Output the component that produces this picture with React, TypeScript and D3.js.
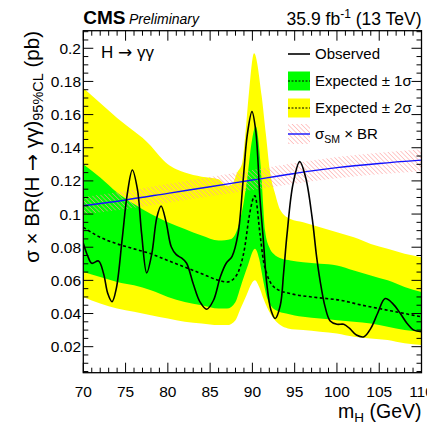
import React from 'react';
import * as d3 from 'd3';

const W = 427;
const H = 425;
const frame = { left: 83.3, right: 421.5, top: 30.7, bottom: 372.7 };

// Axis ranges and tick labels
const massDomain: [number, number] = [70, 110];
const limitDomain: [number, number] = [0.0043, 0.2106];
const xMajorTicks = [70, 75, 80, 85, 90, 95, 100, 105, 110];
const xTickLabels = ['70', '75', '80', '85', '90', '95', '100', '105', '110'];
const yMajorTicks = [0.02, 0.04, 0.06, 0.08, 0.1, 0.12, 0.14, 0.16, 0.18, 0.2];
const yTickLabels = ['0.02', '0.04', '0.06', '0.08', '0.1', '0.12', '0.14', '0.16', '0.18', '0.2'];

// Observed 95% CL upper limit
const obsMass = [
  70, 70.5, 71.0, 71.8, 72.4, 72.9, 73.4, 73.9, 74.6, 75.2,
  75.8, 76.4, 76.9, 77.5, 78.1, 78.7, 79.2, 79.8, 80.4, 81.0,
  81.6, 82.2, 83.0, 83.8, 84.6, 85.4, 86.2, 86.9, 87.6, 88.3,
  88.9, 89.4, 89.95, 90.4, 90.9, 91.3, 91.7, 92.2, 92.7, 93.3,
  93.7, 94.1, 94.8, 95.6, 96.3, 97.06, 97.6, 98.0, 98.6, 99.2,
  100.0, 100.8, 101.5, 102.3, 103.2, 104.0, 104.8, 105.7, 106.6, 107.5,
  108.3, 109.1, 110,
];
const obsLimit = [
  0.0824, 0.075, 0.0703, 0.0717, 0.064, 0.052, 0.0471, 0.055, 0.085, 0.112,
  0.1266, 0.115, 0.088, 0.0645, 0.076, 0.098, 0.1049, 0.095, 0.0803, 0.0755,
  0.0735, 0.0705, 0.058, 0.047, 0.0426, 0.048, 0.062, 0.0703, 0.0745, 0.088,
  0.12, 0.148, 0.1618, 0.150, 0.109, 0.084, 0.058, 0.042, 0.037, 0.045,
  0.065, 0.088, 0.118, 0.1316, 0.122, 0.098, 0.074, 0.060, 0.044, 0.0355,
  0.0335, 0.0335, 0.031, 0.027, 0.026, 0.031, 0.040, 0.049, 0.046, 0.040,
  0.034, 0.030, 0.029,
];

// Expected median limit
const expMass = [
  70, 72, 74, 76, 78, 80, 82, 84, 86, 87,
  87.8, 88.4, 89.1, 89.6, 90.3, 90.9, 91.3, 91.7, 92.8, 94.5,
  97, 100.4, 103, 106, 108, 110,
];
const expLimit = [
  0.092, 0.086, 0.082, 0.079, 0.076, 0.072, 0.068, 0.064, 0.060, 0.059,
  0.061, 0.066, 0.080, 0.098, 0.111, 0.088, 0.072, 0.064, 0.055, 0.052,
  0.050, 0.048, 0.045, 0.042, 0.040, 0.038,
];

// ±1σ band
const green1HiMass = [
  70, 72, 74, 76, 78, 80, 82, 84, 86, 87.5,
  88.3, 88.9, 89.4, 89.9, 90.4, 90.8, 91.1, 91.5, 92.0, 92.5,
  93.5, 94.5, 96, 98, 100, 102, 104, 106, 108, 110,
];
const green1Hi = [
  0.130, 0.122, 0.113, 0.106, 0.100, 0.095, 0.091, 0.087, 0.084, 0.085,
  0.092, 0.105, 0.122, 0.143, 0.153, 0.140, 0.120, 0.090, 0.080, 0.076,
  0.073, 0.072, 0.071, 0.070, 0.069, 0.066, 0.063, 0.060, 0.056, 0.053,
];
const green1LoMass = [
  70, 72, 74, 76, 78, 80, 82, 84, 86, 87,
  88, 88.6, 89.4, 90.3, 90.8, 91.2, 91.7, 92.3, 92.8, 94,
  96, 98, 100, 102, 104, 106, 108, 110,
];
const green1Lo = [
  0.065, 0.062, 0.059, 0.057, 0.054, 0.050, 0.047, 0.045, 0.043, 0.043,
  0.047, 0.056, 0.068, 0.079, 0.073, 0.062, 0.050, 0.044, 0.042, 0.040,
  0.038, 0.037, 0.036, 0.035, 0.034, 0.032, 0.030, 0.029,
];

// ±2σ band
const yellow2HiMass = [
  70, 72, 74, 76, 77, 78, 79, 80, 81, 82,
  84, 86, 87, 87.6, 88.2, 88.8, 89.2, 89.55, 90.2, 91.1,
  91.6, 92.1, 92.7, 93.3, 94.5, 96, 98, 100, 102, 104,
  106, 108, 110,
];
const yellow2Hi = [
  0.176, 0.167, 0.158, 0.150, 0.146, 0.141, 0.135, 0.130, 0.127, 0.125,
  0.1225, 0.121, 0.117, 0.118, 0.125, 0.131, 0.150, 0.171, 0.197, 0.171,
  0.148, 0.125, 0.112, 0.1025, 0.097, 0.095, 0.092, 0.089, 0.086, 0.082,
  0.079, 0.076, 0.074,
];
const yellow2LoMass = [
  70, 72, 74, 76, 78, 80, 82, 84, 86, 87,
  88, 88.6, 89.3, 89.9, 90.3, 90.8, 91.3, 91.9, 92.5, 93.3,
  94.2, 96, 98, 100, 102, 104, 106, 108, 110,
];
const yellow2Lo = [
  0.050, 0.046, 0.043, 0.041, 0.039, 0.037, 0.035, 0.034, 0.033, 0.033,
  0.036, 0.043, 0.051, 0.058, 0.060, 0.056, 0.049, 0.042, 0.037, 0.033,
  0.031, 0.030, 0.029, 0.028, 0.026, 0.025, 0.024, 0.022, 0.021,
];

// SM cross section times branching ratio, with its relative uncertainty
const smMass = [70, 75, 80, 85, 90, 95, 100, 105, 110];
const smXsBr = [0.105, 0.1085, 0.1125, 0.1165, 0.1205, 0.1245, 0.128, 0.1305, 0.1325];
const smRelUnc = 0.05;

const legendLabels = ['Observed', 'Expected \u00b1 1\u03c3', 'Expected \u00b1 2\u03c3'];

const FONT = "'Liberation Sans', Arial, Helvetica, sans-serif";
const ARROW_FONT = "'DejaVu Sans', sans-serif";

export default function App() {
  const x = d3.scaleLinear().domain(massDomain).range([frame.left, frame.right]);
  const y = d3.scaleLinear().domain(limitDomain).range([frame.bottom, frame.top]);

  const lineOf = (ms: number[], vs: number[], curve: d3.CurveFactory) =>
    d3
      .line<number>()
      .x((m) => x(m))
      .y((_, i) => y(vs[i]))
      .curve(curve)(ms) as string;

  const areaToBottom = (ms: number[], vs: number[]) =>
    d3
      .area<number>()
      .x((m) => x(m))
      .y0(frame.bottom)
      .y1((_, i) => y(vs[i]))
      .curve(d3.curveMonotoneX)(ms) as string;

  const areaToTop = (ms: number[], vs: number[]) =>
    d3
      .area<number>()
      .x((m) => x(m))
      .y0(frame.top)
      .y1((_, i) => y(vs[i]))
      .curve(d3.curveMonotoneX)(ms) as string;

  const smBand = d3
    .area<number>()
    .x((m) => x(m))
    .y0((_, i) => y(smXsBr[i] * (1 - smRelUnc)))
    .y1((_, i) => y(smXsBr[i] * (1 + smRelUnc)))
    .curve(d3.curveMonotoneX)(smMass) as string;

  const xMinor = d3.range(70, 111, 1).filter((v) => v % 5 !== 0);
  const yMinor = d3
    .range(0.005, 0.2106, 0.005)
    .filter((v) => Math.abs(v / 0.02 - Math.round(v / 0.02)) > 1e-6);

  const majorLen = 10;
  const minorLen = 5;

  const legX0 = 288;
  const legX1 = 310;
  const legTextX = 315;
  const legY = [54, 81, 108, 134];

  return (
    <svg
      width={W}
      height={H}
      viewBox={`0 0 ${W} ${H}`}
      style={{ position: 'absolute', left: 0, top: 0, background: '#fff' }}
      fontFamily={FONT}
    >
      <defs>
        <clipPath id="plotArea">
          <rect x={frame.left} y={frame.top} width={frame.right - frame.left} height={frame.bottom - frame.top} />
        </clipPath>
        <clipPath id="aboveYellowLo">
          <path d={areaToTop(yellow2LoMass, yellow2Lo)} />
        </clipPath>
        <clipPath id="aboveGreenLo">
          <path d={areaToTop(green1LoMass, green1Lo)} />
        </clipPath>
        <pattern id="smHatch" patternUnits="userSpaceOnUse" width={3.2} height={3.2} patternTransform="rotate(-45)">
          <line x1={0} y1={0} x2={0} y2={3.2} stroke="#ff9d9d" strokeWidth={1.1} />
        </pattern>
      </defs>

      <rect x={0} y={0} width={W} height={H} fill="#fff" />

      <g clipPath="url(#plotArea)">
        <g clipPath="url(#aboveYellowLo)">
          <path d={areaToBottom(yellow2HiMass, yellow2Hi)} fill="#ffff00" />
        </g>
        <g clipPath="url(#aboveGreenLo)">
          <path d={areaToBottom(green1HiMass, green1Hi)} fill="#00ff00" />
        </g>
        <path
          d={lineOf(expMass, expLimit, d3.curveMonotoneX)}
          fill="none"
          stroke="#000"
          strokeWidth={1.6}
          strokeDasharray="3,2.5"
        />
        <path d={smBand} fill="url(#smHatch)" />
        <path d={lineOf(smMass, smXsBr, d3.curveMonotoneX)} fill="none" stroke="#1010ff" strokeWidth={1.4} />
        <path
          d={lineOf(obsMass, obsLimit, d3.curveCatmullRom.alpha(0.5))}
          fill="none"
          stroke="#000"
          strokeWidth={1.6}
        />
      </g>

      {/* frame */}
      <rect
        x={frame.left}
        y={frame.top}
        width={frame.right - frame.left}
        height={frame.bottom - frame.top}
        fill="none"
        stroke="#000"
        strokeWidth={1.3}
      />

      {/* ticks on all four sides, pointing inward */}
      <g stroke="#000" strokeWidth={1}>
        {xMajorTicks.map((t) => (
          <g key={`xM${t}`}>
            <line x1={x(t)} x2={x(t)} y1={frame.bottom} y2={frame.bottom - majorLen} />
            <line x1={x(t)} x2={x(t)} y1={frame.top} y2={frame.top + majorLen} />
          </g>
        ))}
        {xMinor.map((t) => (
          <g key={`xm${t}`}>
            <line x1={x(t)} x2={x(t)} y1={frame.bottom} y2={frame.bottom - minorLen} />
            <line x1={x(t)} x2={x(t)} y1={frame.top} y2={frame.top + minorLen} />
          </g>
        ))}
        {yMajorTicks.map((t) => (
          <g key={`yM${t}`}>
            <line x1={frame.left} x2={frame.left + majorLen} y1={y(t)} y2={y(t)} />
            <line x1={frame.right} x2={frame.right - majorLen} y1={y(t)} y2={y(t)} />
          </g>
        ))}
        {yMinor.map((t) => (
          <g key={`ym${t}`}>
            <line x1={frame.left} x2={frame.left + minorLen} y1={y(t)} y2={y(t)} />
            <line x1={frame.right} x2={frame.right - minorLen} y1={y(t)} y2={y(t)} />
          </g>
        ))}
      </g>

      {/* tick labels */}
      <g fontSize={15.5} fill="#000">
        {xMajorTicks.map((t, i) => (
          <text key={`xl${t}`} x={x(t)} y={397} textAnchor="middle">
            {xTickLabels[i]}
          </text>
        ))}
        {yMajorTicks.map((t, i) => (
          <text key={`yl${t}`} x={81} y={y(t)} dy="0.36em" textAnchor="end">
            {yTickLabels[i]}
          </text>
        ))}
      </g>

      {/* axis titles */}
      <text x={421.5} y={418} textAnchor="end" fontSize={19.5}>
        m<tspan fontSize={13.5} dy={4}>H</tspan>
        <tspan dy={-4}> (GeV)</tspan>
      </text>
      <text transform="rotate(-90)" x={-31} y={39} textAnchor="end" fontSize={20.5}>
        {'\u03c3 \u00d7 BR(H '}
        <tspan fontFamily={ARROW_FONT}>{'\u2192'}</tspan>
        {' \u03b3\u03b3)'}
        <tspan fontSize={14.5} dy={4}>95%CL</tspan>
        <tspan dy={-4}> (pb)</tspan>
      </text>

      {/* header */}
      <text x={83.3} y={24} fontSize={19} fontWeight="bold">
        CMS
      </text>
      <text x={129} y={24} fontSize={14} fontStyle="italic">
        Preliminary
      </text>
      <text x={421.5} y={24.5} textAnchor="end" fontSize={17.5}>
        35.9 fb
        <tspan fontSize={12} dy={-7}>-1</tspan>
        <tspan dy={7}> (13 TeV)</tspan>
      </text>

      {/* process label */}
      <text x={101} y={57.5} fontSize={17}>
        {'H '}
        <tspan fontFamily={ARROW_FONT}>{'\u2192'}</tspan>
        {' \u03b3\u03b3'}
      </text>

      {/* legend */}
      <g fontSize={15}>
        <line x1={legX0} x2={legX1} y1={legY[0]} y2={legY[0]} stroke="#000" strokeWidth={1.6} />
        <text x={legTextX} y={legY[0]} dy="0.36em">
          {legendLabels[0]}
        </text>

        <rect x={legX0} y={legY[1] - 9.5} width={legX1 - legX0} height={19} fill="#00ff00" />
        <line x1={legX0} x2={legX1} y1={legY[1]} y2={legY[1]} stroke="#000" strokeWidth={1} strokeDasharray="2,1.5" />
        <text x={legTextX} y={legY[1]} dy="0.36em">
          {legendLabels[1]}
        </text>

        <rect x={legX0} y={legY[2] - 9.5} width={legX1 - legX0} height={19} fill="#ffff00" />
        <line x1={legX0} x2={legX1} y1={legY[2]} y2={legY[2]} stroke="#000" strokeWidth={1} strokeDasharray="2,1.5" />
        <text x={legTextX} y={legY[2]} dy="0.36em">
          {legendLabels[2]}
        </text>

        <rect x={legX0} y={legY[3] - 10} width={legX1 - legX0} height={20} fill="url(#smHatch)" />
        <line x1={legX0} x2={legX1} y1={legY[3]} y2={legY[3]} stroke="#1010ff" strokeWidth={1.4} />
        <text x={legTextX} y={legY[3]} dy="0.36em">
          {'\u03c3'}
          <tspan fontSize={10.5} dy={4}>SM</tspan>
          <tspan dy={-4}> {'\u00d7 BR'}</tspan>
        </text>
      </g>
    </svg>
  );
}
